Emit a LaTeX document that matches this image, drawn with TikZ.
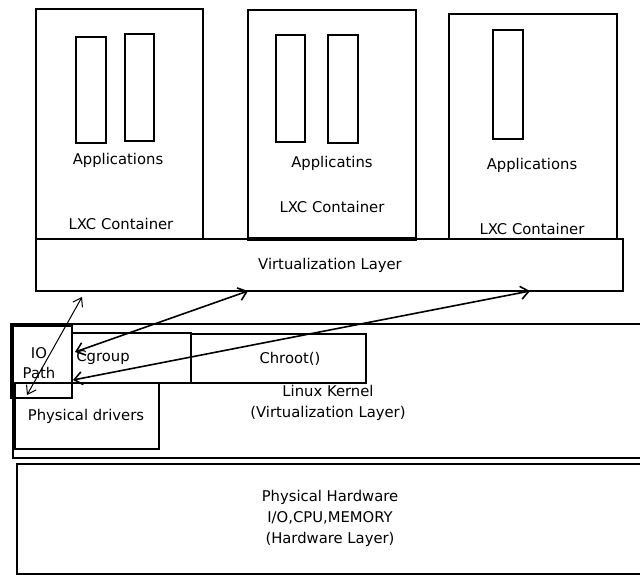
\documentclass[tikz,border=0pt]{standalone}
\usepackage{fontspec}
\setmainfont{DejaVu Sans}
\usetikzlibrary{arrows.meta}
\begin{document}
\begin{tikzpicture}[x=1pt,y=-1pt,
  box/.style={draw, line width=2pt, rectangle, inner sep=0pt, anchor=north west},
  lbl/.style={font=\fontsize{14.8}{21}\selectfont, inner sep=0pt, align=center},
  dbl/.style={line width=1.6pt, {Straight Barb[length=8pt,width=13pt]}-{Straight Barb[length=8pt,width=13pt]}}]
\useasboundingbox (0,0) rectangle (640,575);
\clip (0,0) rectangle (640,575);
\fill[white] (0,0) rectangle (640,575);
% containers
\node[box, minimum width=167pt, minimum height=230pt] (c1) at (35,8) {};
\node[box, minimum width=168pt, minimum height=228pt] (c2) at (247,9) {};
\node[box, minimum width=168pt, minimum height=225pt] (c3) at (448,13) {};
\node[box, minimum width=587pt, minimum height=52pt] (virt) at (35,238) {};
\draw[line width=3.5pt] (c2.south west) -- (c2.south east);
% application boxes
\node[box, minimum width=30pt, minimum height=106pt] (a11) at (75,36) {};
\node[box, minimum width=29pt, minimum height=107pt] (a12) at (124,33) {};
\node[box, minimum width=29pt, minimum height=107pt] (a21) at (275,34) {};
\node[box, minimum width=30pt, minimum height=108pt] (a22) at (327,34) {};
\node[box, minimum width=30pt, minimum height=109pt] (a31) at (492,29) {};
% kernel and hardware
\node[box, minimum width=650pt, minimum height=134pt] (kern) at (12,323) {};
\node[box, minimum width=650pt, minimum height=110pt] (hw) at (16,463) {};
\node[box, minimum width=144pt, minimum height=66pt] (pd) at (14,382) {};
\draw[line width=3.5pt] (pd.north west) -- (pd.south west);
\node[box, minimum width=61pt, minimum height=72pt] (io) at (10,325) {};
\draw[line width=3.5pt] (io.north west) -- (io.north east);
\node[box, minimum width=119pt, minimum height=50pt] (cg) at (71,332) {};
\node[box, minimum width=175pt, minimum height=49pt] (ch) at (190,333) {};
% labels
\node[lbl] (t11) at (118,160) {Applications};
\node[lbl] (t12) at (121,224) {LXC Container};
\node[lbl] (t21) at (332,163) {Applicatins};
\node[lbl] (t22) at (332,207) {LXC Container};
\node[lbl] (t31) at (532,165) {Applications};
\node[lbl] (t32) at (532,229) {LXC Container};
\node[lbl] (tv) at (330,265) {Virtualization Layer};
\node[lbl, font=\fontsize{14.8}{20}\selectfont] (tio) at (39,363) {IO\\Path};
\node[lbl] (tcg) at (103,358) {Cgroup};
\node[lbl] (tch) at (290,359) {Chroot()};
\node[lbl] (tk) at (328,403) {Linux Kernel\\(Virtualization Layer)};
\node[lbl] (tpd) at (86,416) {Physical drivers};
\node[lbl] (thw) at (330,518) {Physical Hardware\\I/O,CPU,MEMORY\\(Hardware Layer)};
% arrow ends
\coordinate (e1a) at (27,395);
\coordinate (e1b) at (82,297);
\coordinate (e2a) at (75,352);
\coordinate (e2b) at (248,291);
\coordinate (e3a) at (73,380);
\coordinate (e3b) at (530,291);
\draw[line width=1pt, {Straight Barb[length=8pt,width=11pt]}-{Straight Barb[length=8pt,width=11pt]}] (e1a) -- (e1b);
\draw[dbl] (e2a) -- (e2b);
\draw[dbl] (e3a) -- (e3b);
\end{tikzpicture}
\end{document}
